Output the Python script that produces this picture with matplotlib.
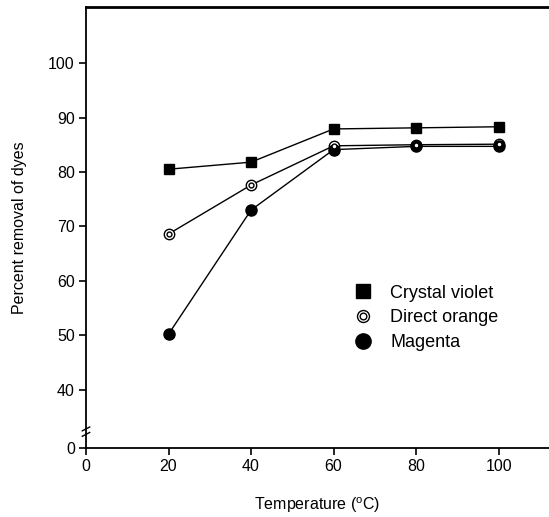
import matplotlib.pyplot as plt
from matplotlib.lines import Line2D
from matplotlib.legend_handler import HandlerTuple

plt.rcParams['font.family'] = ['Liberation Sans', 'DejaVu Sans']
plt.rcParams['mathtext.fontset'] = 'custom'
plt.rcParams['mathtext.rm'] = 'Liberation Sans'

temps = [20, 40, 60, 80, 100]
crystal_violet = [80.5, 81.8, 87.9, 88.1, 88.3]
direct_orange = [68.6, 77.6, 84.8, 85.0, 85.1]
magenta = [50.2, 73.0, 84.1, 84.7, 84.7]

# the y axis is broken between 0 and 40: "0" sits at y_zero
y_zero = 29.3
yticks = [y_zero, 40, 50, 60, 70, 80, 90, 100]
ylabels = ['0', '40', '50', '60', '70', '80', '90', '100']
xticks = [0, 20, 40, 60, 80, 100]
names = ['Crystal violet', 'Direct orange', 'Magenta']

fig = plt.figure(figsize=(5.49, 5.17), dpi=100)
ax = fig.add_axes([0.1566, 0.1335, 0.8434, 0.853])

lw = 1.0
ax.plot(temps, crystal_violet, color='black', lw=lw, marker='s', ms=7.5,
        mfc='black', mec='black', zorder=3)
ax.plot(temps, direct_orange, color='black', lw=lw, marker='o', ms=7.5,
        mfc='white', mec='black', mew=1.0, zorder=3)
ax.plot(temps, direct_orange, ls='none', marker='o', ms=3.5,
        mfc='white', mec='black', mew=1.0, zorder=4)
ax.plot(temps, magenta, color='black', lw=lw, marker='o', ms=8,
        mfc='black', mec='black', zorder=3)

ax.set_xlim(0, 112.2)
ax.set_ylim(y_zero, 110.3)
ax.set_xticks(xticks)
ax.set_yticks(yticks)
ax.set_yticklabels(ylabels)
ax.tick_params(direction='out', length=5, width=1.2, labelsize=11.5, pad=3)

ax.spines['right'].set_visible(False)
ax.spines['top'].set_linewidth(2.0)
ax.spines['left'].set_linewidth(1.3)
ax.spines['bottom'].set_linewidth(1.3)

# axis break marks
for yb in (31.8, 32.8):
    ax.plot([-0.9, 0.9], [yb - 0.35, yb + 0.35], color='black', lw=1.0,
            clip_on=False, zorder=5)

ax.set_xlabel('Temperature ($^{\\mathrm{o}}$C)', fontsize=11.5, labelpad=15)
ax.set_ylabel('Percent removal of dyes', fontsize=11.5, labelpad=15)

# legend proxies without lines
h1 = Line2D([], [], ls='none', marker='s', ms=10, mfc='black', mec='black')
h2a = Line2D([], [], ls='none', marker='o', ms=8.6, mfc='white', mec='black', mew=1.0)
h2b = Line2D([], [], ls='none', marker='o', ms=4.8, mfc='white', mec='black', mew=1.0)
h3 = Line2D([], [], ls='none', marker='o', ms=11, mfc='black', mec='black')
ax.legend([h1, (h2a, h2b), h3], names,
          handler_map={tuple: HandlerTuple(ndivide=1, pad=0)},
          frameon=False, fontsize=13, loc='center left',
          bbox_to_anchor=(0.5443, 0.295), handlelength=1.0, handletextpad=0.99,
          labelspacing=0.42)

fig.savefig('out.png', dpi=100)
